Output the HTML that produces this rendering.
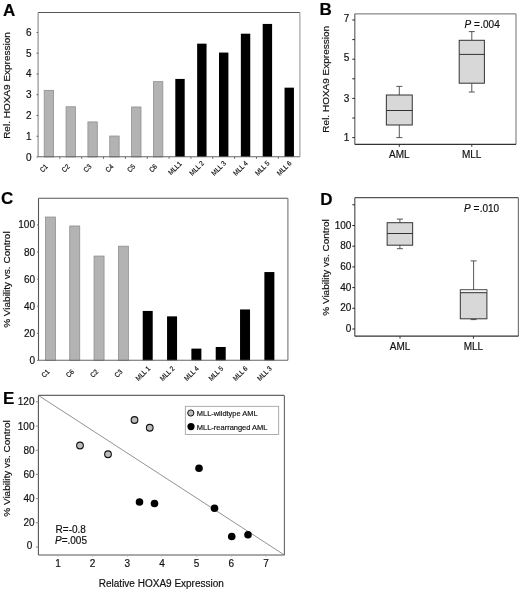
<!DOCTYPE html>
<html><head><meta charset="utf-8"><style>
html,body{margin:0;padding:0;background:#fff;}
svg{display:block;filter:grayscale(1);}
text{font-family:"Liberation Sans",sans-serif;stroke:#111;stroke-width:0.18px;}
</style></head><body>
<svg width="520" height="590" viewBox="0 0 520 590">
<rect width="520" height="590" fill="#fff"/>
<text x="3" y="16.2" font-size="17" font-weight="bold" fill="#000">A</text>
<text x="319.5" y="15.2" font-size="17" font-weight="bold" fill="#000">B</text>
<text x="1" y="204" font-size="17" font-weight="bold" fill="#000">C</text>
<text x="320.3" y="205" font-size="17" font-weight="bold" fill="#000">D</text>
<text x="3" y="404.2" font-size="17" font-weight="bold" fill="#000">E</text>
<rect x="44.20" y="90.36" width="9.4" height="66.64" fill="#b3b3b3" stroke="#8f8f8f" stroke-width="0.8"/>
<text transform="translate(45.50,169.80) rotate(-45) scale(0.9,1)" font-size="7" text-anchor="middle" fill="#111">C1</text>
<rect x="66.05" y="106.76" width="9.4" height="50.24" fill="#b3b3b3" stroke="#8f8f8f" stroke-width="0.8"/>
<text transform="translate(67.35,169.80) rotate(-45) scale(0.9,1)" font-size="7" text-anchor="middle" fill="#111">C2</text>
<line x1="59.83" y1="156.80" x2="59.83" y2="158.80" stroke="#666" stroke-width="1"/>
<rect x="87.90" y="121.92" width="9.4" height="35.08" fill="#b3b3b3" stroke="#8f8f8f" stroke-width="0.8"/>
<text transform="translate(89.20,169.80) rotate(-45) scale(0.9,1)" font-size="7" text-anchor="middle" fill="#111">C3</text>
<line x1="81.68" y1="156.80" x2="81.68" y2="158.80" stroke="#666" stroke-width="1"/>
<rect x="109.75" y="136.03" width="9.4" height="20.97" fill="#b3b3b3" stroke="#8f8f8f" stroke-width="0.8"/>
<text transform="translate(111.05,169.80) rotate(-45) scale(0.9,1)" font-size="7" text-anchor="middle" fill="#111">C4</text>
<line x1="103.53" y1="156.80" x2="103.53" y2="158.80" stroke="#666" stroke-width="1"/>
<rect x="131.60" y="106.97" width="9.4" height="50.03" fill="#b3b3b3" stroke="#8f8f8f" stroke-width="0.8"/>
<text transform="translate(132.90,169.80) rotate(-45) scale(0.9,1)" font-size="7" text-anchor="middle" fill="#111">C5</text>
<line x1="125.38" y1="156.80" x2="125.38" y2="158.80" stroke="#666" stroke-width="1"/>
<rect x="153.45" y="81.64" width="9.4" height="75.36" fill="#b3b3b3" stroke="#8f8f8f" stroke-width="0.8"/>
<text transform="translate(154.75,169.80) rotate(-45) scale(0.9,1)" font-size="7" text-anchor="middle" fill="#111">C6</text>
<line x1="147.22" y1="156.80" x2="147.22" y2="158.80" stroke="#666" stroke-width="1"/>
<rect x="175.30" y="78.94" width="9.4" height="78.06" fill="#000"/>
<text transform="translate(176.60,169.80) rotate(-45) scale(0.9,1)" font-size="7" text-anchor="middle" fill="#111">MLL1</text>
<line x1="169.08" y1="156.80" x2="169.08" y2="158.80" stroke="#666" stroke-width="1"/>
<rect x="197.15" y="43.65" width="9.4" height="113.35" fill="#000"/>
<text transform="translate(198.45,169.80) rotate(-45) scale(0.9,1)" font-size="7" text-anchor="middle" fill="#111">MLL 2</text>
<line x1="190.93" y1="156.80" x2="190.93" y2="158.80" stroke="#666" stroke-width="1"/>
<rect x="219.00" y="52.58" width="9.4" height="104.42" fill="#000"/>
<text transform="translate(220.30,169.80) rotate(-45) scale(0.9,1)" font-size="7" text-anchor="middle" fill="#111">MLL 3</text>
<line x1="212.78" y1="156.80" x2="212.78" y2="158.80" stroke="#666" stroke-width="1"/>
<rect x="240.85" y="33.69" width="9.4" height="123.31" fill="#000"/>
<text transform="translate(242.15,169.80) rotate(-45) scale(0.9,1)" font-size="7" text-anchor="middle" fill="#111">MLL 4</text>
<line x1="234.63" y1="156.80" x2="234.63" y2="158.80" stroke="#666" stroke-width="1"/>
<rect x="262.70" y="23.93" width="9.4" height="133.07" fill="#000"/>
<text transform="translate(264.00,169.80) rotate(-45) scale(0.9,1)" font-size="7" text-anchor="middle" fill="#111">MLL 5</text>
<line x1="256.47" y1="156.80" x2="256.47" y2="158.80" stroke="#666" stroke-width="1"/>
<rect x="284.55" y="87.66" width="9.4" height="69.34" fill="#000"/>
<text transform="translate(285.85,169.80) rotate(-45) scale(0.9,1)" font-size="7" text-anchor="middle" fill="#111">MLL 6</text>
<line x1="278.32" y1="156.80" x2="278.32" y2="158.80" stroke="#666" stroke-width="1"/>
<line x1="38.10" y1="12.50" x2="299.90" y2="12.50" stroke="#555" stroke-width="1.1"/>
<line x1="299.90" y1="12.50" x2="299.90" y2="156.80" stroke="#999" stroke-width="1.1"/>
<line x1="38.10" y1="12.50" x2="38.10" y2="156.80" stroke="#888" stroke-width="1.1"/>
<line x1="38.10" y1="156.80" x2="299.90" y2="156.80" stroke="#666" stroke-width="1.1"/>
<line x1="36.60" y1="157.00" x2="38.10" y2="157.00" stroke="#555" stroke-width="1"/>
<text transform="translate(31.50,160.50) scale(1.0,1)" font-size="10.000" text-anchor="end" fill="#111" >0</text>
<line x1="36.60" y1="136.24" x2="38.10" y2="136.24" stroke="#555" stroke-width="1"/>
<text transform="translate(31.50,139.74) scale(1.0,1)" font-size="10.000" text-anchor="end" fill="#111" >1</text>
<line x1="36.60" y1="115.48" x2="38.10" y2="115.48" stroke="#555" stroke-width="1"/>
<text transform="translate(31.50,118.98) scale(1.0,1)" font-size="10.000" text-anchor="end" fill="#111" >2</text>
<line x1="36.60" y1="94.72" x2="38.10" y2="94.72" stroke="#555" stroke-width="1"/>
<text transform="translate(31.50,98.22) scale(1.0,1)" font-size="10.000" text-anchor="end" fill="#111" >3</text>
<line x1="36.60" y1="73.96" x2="38.10" y2="73.96" stroke="#555" stroke-width="1"/>
<text transform="translate(31.50,77.46) scale(1.0,1)" font-size="10.000" text-anchor="end" fill="#111" >4</text>
<line x1="36.60" y1="53.20" x2="38.10" y2="53.20" stroke="#555" stroke-width="1"/>
<text transform="translate(31.50,56.70) scale(1.0,1)" font-size="10.000" text-anchor="end" fill="#111" >5</text>
<line x1="36.60" y1="32.44" x2="38.10" y2="32.44" stroke="#555" stroke-width="1"/>
<text transform="translate(31.50,35.94) scale(1.0,1)" font-size="10.000" text-anchor="end" fill="#111" >6</text>
<text transform="translate(10.2,85.5) rotate(-90) scale(1.06,1)" font-size="9.434" text-anchor="middle" fill="#111">Rel. HOXA9 Expression</text>
<line x1="399.30" y1="86.40" x2="399.30" y2="95.00" stroke="#444" stroke-width="0.9"/>
<line x1="399.30" y1="125.00" x2="399.30" y2="137.60" stroke="#444" stroke-width="0.9"/>
<line x1="396.30" y1="86.40" x2="402.30" y2="86.40" stroke="#444" stroke-width="0.9"/>
<line x1="396.30" y1="137.60" x2="402.30" y2="137.60" stroke="#444" stroke-width="0.9"/>
<rect x="386.35" y="95" width="25.9" height="30.00" fill="#d8d8d8" stroke="#333" stroke-width="1"/>
<line x1="386.35" y1="110.50" x2="412.25" y2="110.50" stroke="#333" stroke-width="1"/>
<line x1="471.80" y1="31.60" x2="471.80" y2="40.30" stroke="#444" stroke-width="0.9"/>
<line x1="471.80" y1="83.20" x2="471.80" y2="92.00" stroke="#444" stroke-width="0.9"/>
<line x1="468.80" y1="31.60" x2="474.80" y2="31.60" stroke="#444" stroke-width="0.9"/>
<line x1="468.80" y1="92.00" x2="474.80" y2="92.00" stroke="#444" stroke-width="0.9"/>
<rect x="459.20" y="40.3" width="25.2" height="42.90" fill="#d8d8d8" stroke="#333" stroke-width="1"/>
<line x1="459.20" y1="54.40" x2="484.40" y2="54.40" stroke="#333" stroke-width="1"/>
<line x1="354.80" y1="13.80" x2="516.00" y2="13.80" stroke="#888" stroke-width="1.2"/>
<line x1="516.00" y1="13.80" x2="516.00" y2="144.40" stroke="#888" stroke-width="1.2"/>
<line x1="354.80" y1="13.80" x2="354.80" y2="144.40" stroke="#666" stroke-width="1.2"/>
<line x1="354.80" y1="144.40" x2="516.00" y2="144.40" stroke="#333" stroke-width="1.2"/>
<line x1="352.30" y1="137.60" x2="354.80" y2="137.60" stroke="#222" stroke-width="1"/>
<text transform="translate(349.30,141.45) scale(1.0,1)" font-size="10.000" text-anchor="end" fill="#111" >1</text>
<line x1="352.30" y1="118.00" x2="354.80" y2="118.00" stroke="#222" stroke-width="1"/>
<line x1="352.30" y1="98.40" x2="354.80" y2="98.40" stroke="#222" stroke-width="1"/>
<text transform="translate(349.30,102.05) scale(1.0,1)" font-size="10.000" text-anchor="end" fill="#111" >3</text>
<line x1="352.30" y1="78.80" x2="354.80" y2="78.80" stroke="#222" stroke-width="1"/>
<line x1="352.30" y1="59.20" x2="354.80" y2="59.20" stroke="#222" stroke-width="1"/>
<text transform="translate(349.30,61.35) scale(1.0,1)" font-size="10.000" text-anchor="end" fill="#111" >5</text>
<line x1="352.30" y1="39.60" x2="354.80" y2="39.60" stroke="#222" stroke-width="1"/>
<line x1="352.30" y1="20.00" x2="354.80" y2="20.00" stroke="#222" stroke-width="1"/>
<text transform="translate(349.30,22.35) scale(1.0,1)" font-size="10.000" text-anchor="end" fill="#111" >7</text>
<text transform="translate(329.2,79.3) rotate(-90) scale(1.06,1)" font-size="9.434" text-anchor="middle" fill="#111">Rel. HOXA9 Expression</text>
<line x1="399.30" y1="144.40" x2="399.30" y2="146.90" stroke="#333" stroke-width="1"/>
<line x1="471.80" y1="144.40" x2="471.80" y2="146.90" stroke="#333" stroke-width="1"/>
<text transform="translate(399.40,158.00) scale(1.0,1)" font-size="10.000" text-anchor="middle" fill="#111" >AML</text>
<text transform="translate(471.60,158.00) scale(1.0,1)" font-size="10.000" text-anchor="middle" fill="#111" >MLL</text>
<text transform="translate(464.60,28.30) scale(1.0,1)" font-size="10.000" text-anchor="start" fill="#111" ><tspan font-style="italic">P</tspan> = <tspan dx="-2.4">.004</tspan></text>
<rect x="45.40" y="217.04" width="10" height="143.36" fill="#b3b3b3" stroke="#8f8f8f" stroke-width="0.8"/>
<text transform="translate(47.20,375.20) rotate(-45) scale(0.9,1)" font-size="7" text-anchor="middle" fill="#111">C1</text>
<rect x="69.73" y="225.98" width="10" height="134.42" fill="#b3b3b3" stroke="#8f8f8f" stroke-width="0.8"/>
<text transform="translate(71.53,375.20) rotate(-45) scale(0.9,1)" font-size="7" text-anchor="middle" fill="#111">C6</text>
<rect x="94.06" y="256.06" width="10" height="104.33" fill="#b3b3b3" stroke="#8f8f8f" stroke-width="0.8"/>
<text transform="translate(95.86,375.20) rotate(-45) scale(0.9,1)" font-size="7" text-anchor="middle" fill="#111">C2</text>
<rect x="118.39" y="246.17" width="10" height="114.23" fill="#b3b3b3" stroke="#8f8f8f" stroke-width="0.8"/>
<text transform="translate(120.19,375.20) rotate(-45) scale(0.9,1)" font-size="7" text-anchor="middle" fill="#111">C3</text>
<rect x="142.72" y="310.94" width="10" height="49.46" fill="#000"/>
<text transform="translate(144.52,375.20) rotate(-45) scale(0.9,1)" font-size="7" text-anchor="middle" fill="#111">MLL 1</text>
<rect x="167.05" y="316.36" width="10" height="44.04" fill="#000"/>
<text transform="translate(168.85,375.20) rotate(-45) scale(0.9,1)" font-size="7" text-anchor="middle" fill="#111">MLL 2</text>
<rect x="191.38" y="348.61" width="10" height="11.79" fill="#000"/>
<text transform="translate(193.18,375.20) rotate(-45) scale(0.9,1)" font-size="7" text-anchor="middle" fill="#111">MLL 4</text>
<rect x="215.71" y="346.99" width="10" height="13.41" fill="#000"/>
<text transform="translate(217.51,375.20) rotate(-45) scale(0.9,1)" font-size="7" text-anchor="middle" fill="#111">MLL 5</text>
<rect x="240.04" y="309.45" width="10" height="50.95" fill="#000"/>
<text transform="translate(241.84,375.20) rotate(-45) scale(0.9,1)" font-size="7" text-anchor="middle" fill="#111">MLL 6</text>
<rect x="264.37" y="272.05" width="10" height="88.35" fill="#000"/>
<text transform="translate(266.17,375.20) rotate(-45) scale(0.9,1)" font-size="7" text-anchor="middle" fill="#111">MLL 3</text>
<line x1="38.50" y1="198.30" x2="287.90" y2="198.30" stroke="#555" stroke-width="1.1"/>
<line x1="287.90" y1="198.30" x2="287.90" y2="360.30" stroke="#777" stroke-width="1.1"/>
<line x1="38.50" y1="198.30" x2="38.50" y2="360.30" stroke="#555" stroke-width="1.1"/>
<line x1="38.50" y1="360.30" x2="287.90" y2="360.30" stroke="#666" stroke-width="1.1"/>
<line x1="37.00" y1="360.40" x2="38.50" y2="360.40" stroke="#777" stroke-width="1"/>
<text transform="translate(35.00,363.90) scale(1.0,1)" font-size="10.000" text-anchor="end" fill="#111" >0</text>
<line x1="37.00" y1="333.30" x2="38.50" y2="333.30" stroke="#777" stroke-width="1"/>
<text transform="translate(35.00,336.80) scale(1.0,1)" font-size="10.000" text-anchor="end" fill="#111" >20</text>
<line x1="37.00" y1="306.20" x2="38.50" y2="306.20" stroke="#777" stroke-width="1"/>
<text transform="translate(35.00,309.70) scale(1.0,1)" font-size="10.000" text-anchor="end" fill="#111" >40</text>
<line x1="37.00" y1="279.10" x2="38.50" y2="279.10" stroke="#777" stroke-width="1"/>
<text transform="translate(35.00,282.60) scale(1.0,1)" font-size="10.000" text-anchor="end" fill="#111" >60</text>
<line x1="37.00" y1="252.00" x2="38.50" y2="252.00" stroke="#777" stroke-width="1"/>
<text transform="translate(35.00,255.50) scale(1.0,1)" font-size="10.000" text-anchor="end" fill="#111" >80</text>
<line x1="37.00" y1="224.90" x2="38.50" y2="224.90" stroke="#777" stroke-width="1"/>
<text transform="translate(35.00,228.40) scale(1.0,1)" font-size="10.000" text-anchor="end" fill="#111" >100</text>
<text transform="translate(10,279.6) rotate(-90) scale(1.06,1)" font-size="9.434" text-anchor="middle" fill="#111">% Viability vs. Control</text>
<line x1="399.90" y1="219.10" x2="399.90" y2="222.70" stroke="#444" stroke-width="0.9"/>
<line x1="399.90" y1="245.20" x2="399.90" y2="248.70" stroke="#444" stroke-width="0.9"/>
<line x1="396.90" y1="219.10" x2="402.90" y2="219.10" stroke="#444" stroke-width="0.9"/>
<line x1="396.90" y1="248.70" x2="402.90" y2="248.70" stroke="#444" stroke-width="0.9"/>
<rect x="387.15" y="222.7" width="25.5" height="22.50" fill="#d8d8d8" stroke="#333" stroke-width="1"/>
<line x1="387.15" y1="233.50" x2="412.65" y2="233.50" stroke="#333" stroke-width="1"/>
<line x1="473.60" y1="260.90" x2="473.60" y2="289.80" stroke="#444" stroke-width="0.9"/>
<line x1="473.60" y1="318.80" x2="473.60" y2="319.60" stroke="#444" stroke-width="0.9"/>
<line x1="470.60" y1="260.90" x2="476.60" y2="260.90" stroke="#444" stroke-width="0.9"/>
<line x1="470.60" y1="319.60" x2="476.60" y2="319.60" stroke="#444" stroke-width="0.9"/>
<rect x="460.30" y="289.8" width="26.6" height="29.00" fill="#d8d8d8" stroke="#333" stroke-width="1"/>
<rect x="460.80" y="290.3" width="25.6" height="1.90" fill="#f4f4f4"/>
<line x1="460.30" y1="292.70" x2="486.90" y2="292.70" stroke="#333" stroke-width="1"/>
<line x1="354.80" y1="197.70" x2="518.40" y2="197.70" stroke="#555" stroke-width="1.2"/>
<line x1="518.40" y1="197.70" x2="518.40" y2="336.20" stroke="#777" stroke-width="1.2"/>
<line x1="354.80" y1="197.70" x2="354.80" y2="336.20" stroke="#555" stroke-width="1.2"/>
<line x1="354.80" y1="336.20" x2="518.40" y2="336.20" stroke="#333" stroke-width="1.2"/>
<line x1="352.30" y1="329.00" x2="354.80" y2="329.00" stroke="#222" stroke-width="1"/>
<text transform="translate(351.40,332.00) scale(1.0,1)" font-size="10.000" text-anchor="end" fill="#111" >0</text>
<line x1="352.30" y1="308.30" x2="354.80" y2="308.30" stroke="#222" stroke-width="1"/>
<text transform="translate(351.40,311.30) scale(1.0,1)" font-size="10.000" text-anchor="end" fill="#111" >20</text>
<line x1="352.30" y1="287.60" x2="354.80" y2="287.60" stroke="#222" stroke-width="1"/>
<text transform="translate(351.40,290.60) scale(1.0,1)" font-size="10.000" text-anchor="end" fill="#111" >40</text>
<line x1="352.30" y1="266.90" x2="354.80" y2="266.90" stroke="#222" stroke-width="1"/>
<text transform="translate(351.40,269.90) scale(1.0,1)" font-size="10.000" text-anchor="end" fill="#111" >60</text>
<line x1="352.30" y1="246.20" x2="354.80" y2="246.20" stroke="#222" stroke-width="1"/>
<text transform="translate(351.40,249.20) scale(1.0,1)" font-size="10.000" text-anchor="end" fill="#111" >80</text>
<line x1="352.30" y1="225.50" x2="354.80" y2="225.50" stroke="#222" stroke-width="1"/>
<text transform="translate(351.40,228.50) scale(1.0,1)" font-size="10.000" text-anchor="end" fill="#111" >100</text>
<line x1="352.30" y1="204.80" x2="354.80" y2="204.80" stroke="#222" stroke-width="1"/>
<text transform="translate(328.5,267.5) rotate(-90) scale(1.06,1)" font-size="9.434" text-anchor="middle" fill="#111">% Viability vs. Control</text>
<line x1="400.00" y1="336.20" x2="400.00" y2="338.70" stroke="#333" stroke-width="1"/>
<line x1="473.40" y1="336.20" x2="473.40" y2="338.70" stroke="#333" stroke-width="1"/>
<text transform="translate(400.00,349.50) scale(1.0,1)" font-size="10.000" text-anchor="middle" fill="#111" >AML</text>
<text transform="translate(473.40,349.50) scale(1.0,1)" font-size="10.000" text-anchor="middle" fill="#111" >MLL</text>
<text transform="translate(464.00,211.90) scale(1.0,1)" font-size="10.000" text-anchor="start" fill="#111" ><tspan font-style="italic">P</tspan> = <tspan dx="-2.4">.010</tspan></text>
<line x1="38.40" y1="395.40" x2="284.40" y2="395.40" stroke="#666" stroke-width="1.1"/>
<line x1="284.40" y1="395.40" x2="284.40" y2="555.00" stroke="#666" stroke-width="1.1"/>
<line x1="38.40" y1="395.40" x2="38.40" y2="555.00" stroke="#555" stroke-width="1.1"/>
<line x1="38.40" y1="555.00" x2="284.40" y2="555.00" stroke="#555" stroke-width="1.1"/>
<line x1="35.90" y1="547.00" x2="38.40" y2="547.00" stroke="#888" stroke-width="1"/>
<text transform="translate(32.40,549.30) scale(1.0,1)" font-size="10.000" text-anchor="end" fill="#111" >0</text>
<line x1="35.90" y1="522.80" x2="38.40" y2="522.80" stroke="#888" stroke-width="1"/>
<text transform="translate(34.50,526.30) scale(1.0,1)" font-size="10.000" text-anchor="end" fill="#111" >20</text>
<line x1="35.90" y1="498.60" x2="38.40" y2="498.60" stroke="#888" stroke-width="1"/>
<text transform="translate(34.50,502.10) scale(1.0,1)" font-size="10.000" text-anchor="end" fill="#111" >40</text>
<line x1="35.90" y1="474.40" x2="38.40" y2="474.40" stroke="#888" stroke-width="1"/>
<text transform="translate(34.50,477.90) scale(1.0,1)" font-size="10.000" text-anchor="end" fill="#111" >60</text>
<line x1="35.90" y1="450.20" x2="38.40" y2="450.20" stroke="#888" stroke-width="1"/>
<text transform="translate(34.50,453.70) scale(1.0,1)" font-size="10.000" text-anchor="end" fill="#111" >80</text>
<line x1="35.90" y1="426.00" x2="38.40" y2="426.00" stroke="#888" stroke-width="1"/>
<text transform="translate(34.50,429.50) scale(1.0,1)" font-size="10.000" text-anchor="end" fill="#111" >100</text>
<line x1="35.90" y1="401.80" x2="38.40" y2="401.80" stroke="#888" stroke-width="1"/>
<text transform="translate(34.50,405.30) scale(1.0,1)" font-size="10.000" text-anchor="end" fill="#111" >120</text>
<line x1="57.97" y1="555.00" x2="57.97" y2="556.50" stroke="#aaa" stroke-width="1"/>
<text transform="translate(57.97,566.80) scale(1.0,1)" font-size="10.000" text-anchor="middle" fill="#111" >1</text>
<line x1="92.64" y1="555.00" x2="92.64" y2="556.50" stroke="#aaa" stroke-width="1"/>
<text transform="translate(92.64,566.80) scale(1.0,1)" font-size="10.000" text-anchor="middle" fill="#111" >2</text>
<line x1="127.31" y1="555.00" x2="127.31" y2="556.50" stroke="#aaa" stroke-width="1"/>
<text transform="translate(127.31,566.80) scale(1.0,1)" font-size="10.000" text-anchor="middle" fill="#111" >3</text>
<line x1="161.98" y1="555.00" x2="161.98" y2="556.50" stroke="#aaa" stroke-width="1"/>
<text transform="translate(161.98,566.80) scale(1.0,1)" font-size="10.000" text-anchor="middle" fill="#111" >4</text>
<line x1="196.65" y1="555.00" x2="196.65" y2="556.50" stroke="#aaa" stroke-width="1"/>
<text transform="translate(196.65,566.80) scale(1.0,1)" font-size="10.000" text-anchor="middle" fill="#111" >5</text>
<line x1="231.32" y1="555.00" x2="231.32" y2="556.50" stroke="#aaa" stroke-width="1"/>
<text transform="translate(231.32,566.80) scale(1.0,1)" font-size="10.000" text-anchor="middle" fill="#111" >6</text>
<line x1="265.99" y1="555.00" x2="265.99" y2="556.50" stroke="#aaa" stroke-width="1"/>
<text transform="translate(265.99,566.80) scale(1.0,1)" font-size="10.000" text-anchor="middle" fill="#111" >7</text>
<line x1="38.4" y1="395.4" x2="284.4" y2="555" stroke="#777" stroke-width="0.8"/>
<text transform="translate(10,468.5) rotate(-90) scale(1.06,1)" font-size="9.434" text-anchor="middle" fill="#111">% Viability vs. Control</text>
<text transform="translate(98.80,586.50) scale(1.0,1)" font-size="10.000" text-anchor="start" fill="#111" >Relative HOXA9 Expression</text>
<text transform="translate(55.60,532.80) scale(1.0,1)" font-size="10.000" text-anchor="start" fill="#111" >R=-0.8</text>
<text transform="translate(55.00,544.20) scale(1.0,1)" font-size="10.000" text-anchor="start" fill="#111" ><tspan font-style="italic">P</tspan>=.005</text>
<circle cx="80" cy="445.5" r="3.35" fill="#bcbcbc" stroke="#111" stroke-width="1.1"/>
<circle cx="108" cy="454.25" r="3.35" fill="#bcbcbc" stroke="#111" stroke-width="1.1"/>
<circle cx="134.5" cy="420" r="3.35" fill="#bcbcbc" stroke="#111" stroke-width="1.1"/>
<circle cx="149.75" cy="427.75" r="3.35" fill="#bcbcbc" stroke="#111" stroke-width="1.1"/>
<circle cx="139.5" cy="502" r="3.8" fill="#000"/>
<circle cx="154.5" cy="503.5" r="3.8" fill="#000"/>
<circle cx="199" cy="468.25" r="3.8" fill="#000"/>
<circle cx="214.5" cy="508.25" r="3.8" fill="#000"/>
<circle cx="231.75" cy="536.5" r="3.8" fill="#000"/>
<circle cx="248" cy="534.75" r="3.8" fill="#000"/>
<rect x="185.3" y="406.3" width="93.4" height="28.2" fill="#fff" stroke="#999" stroke-width="0.8"/>
<circle cx="190.8" cy="413" r="3.1" fill="#bcbcbc" stroke="#111" stroke-width="1"/>
<circle cx="191" cy="426.6" r="3.6" fill="#000"/>
<text transform="translate(196.80,416.20) scale(0.93,1)" font-size="8.011" text-anchor="start" fill="#111" >MLL-wildtype AML</text>
<text transform="translate(196.80,430.40) scale(0.93,1)" font-size="8.065" text-anchor="start" fill="#111" >MLL-rearranged AML</text>
</svg>
</body></html>
